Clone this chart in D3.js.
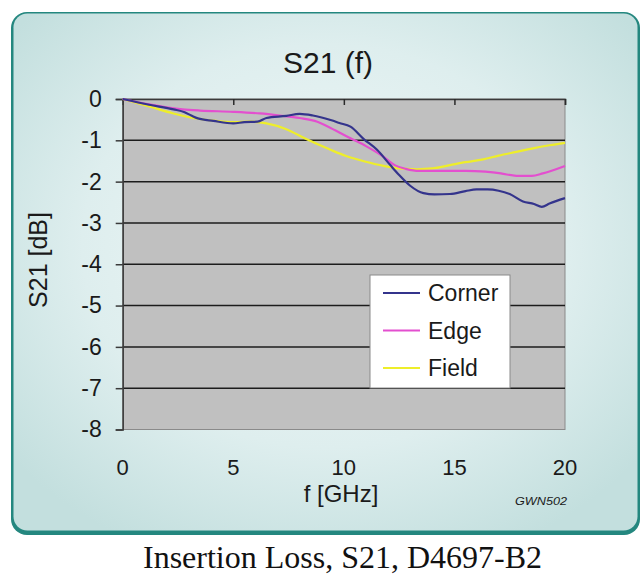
<!DOCTYPE html>
<html>
<head>
<meta charset="utf-8">
<script src="https://cdn.jsdelivr.net/npm/d3@7"></script>
<style>
  body { margin: 0; background: #fff; }
  text { font-family: "Liberation Sans", Arial, sans-serif; fill: #1a1a1a; }
  text.caption { font-family: "Liberation Serif", "Times New Roman", serif; fill: #111; }
</style>
</head>
<body>
<svg id="root"></svg>
<script>
// values
const cornerF = [0, 1.2, 2.3, 2.8, 3.1, 3.4, 4.1, 5.0, 5.5, 6.1, 6.5, 7.4, 8.0, 8.6, 9.4, 9.8, 10.3, 10.9, 11.5, 12.1, 12.5, 13.0, 13.6, 14.1, 14.8, 15.5, 16.0, 16.5, 17.0, 17.5, 18.1, 18.6, 18.95, 19.3, 20]
const cornerDb = [0, -0.14, -0.25, -0.32, -0.40, -0.47, -0.53, -0.59, -0.56, -0.55, -0.46, -0.41, -0.36, -0.40, -0.51, -0.58, -0.67, -0.97, -1.23, -1.6, -1.84, -2.1, -2.28, -2.31, -2.3, -2.23, -2.19, -2.19, -2.22, -2.3, -2.48, -2.54, -2.61, -2.53, -2.4]

const edgeF = [0, 1.2, 2.7, 3.5, 5.0, 6.2, 7.1, 8.0, 8.8, 9.4, 10.3, 11.0, 11.8, 12.3, 12.8, 13.4, 14.0, 15.5, 16.4, 17.1, 17.8, 18.5, 19.0, 20]
const edgeDb = [0, -0.13, -0.25, -0.28, -0.31, -0.35, -0.40, -0.46, -0.55, -0.70, -0.95, -1.14, -1.40, -1.60, -1.69, -1.74, -1.74, -1.74, -1.76, -1.80, -1.86, -1.86, -1.80, -1.62]

const fieldF = [0, 1.2, 2.3, 3.2, 4.2, 5.0, 5.8, 6.5, 7.4, 8.3, 9.4, 10.1, 11.0, 11.8, 12.5, 13.3, 14.0, 14.8, 15.5, 16.3, 17.0, 17.8, 18.5, 19.3, 20]
const fieldDb = [0, -0.18, -0.35, -0.46, -0.53, -0.56, -0.55, -0.59, -0.73, -0.97, -1.23, -1.38, -1.52, -1.62, -1.68, -1.70, -1.68, -1.60, -1.53, -1.46, -1.37, -1.28, -1.20, -1.12, -1.06]

const seriesNames = ["Corner", "Edge", "Field"]
const seriesColors = ["#34348c", "#e34fcf", "#eeee2a"]
const xTicks = [0, 5, 10, 15, 20]
const yTicks = [0, -1, -2, -3, -4, -5, -6, -7, -8]

const width = 641, height = 574

const svg = d3.select("#root").attr("width", width).attr("height", height)
const defs = svg.append("defs")

// frame background
const grad = defs.append("radialGradient").attr("id", "bg")
  .attr("cx", "50%").attr("cy", "45%").attr("r", "65%")
grad.append("stop").attr("offset", "0%").attr("stop-color", "#f1f8f8")
grad.append("stop").attr("offset", "60%").attr("stop-color", "#deeeee")
grad.append("stop").attr("offset", "100%").attr("stop-color", "#c3dfde")

svg.append("rect").attr("x", 11).attr("y", 12).attr("width", 629).attr("height", 523)
  .attr("rx", 16).attr("fill", "#24877f")
svg.append("rect").attr("x", 13.5).attr("y", 13.5).attr("width", 624).attr("height", 517)
  .attr("rx", 14).attr("fill", "url(#bg)")

const x = d3.scaleLinear().domain([0, 20]).range([122.7, 565])
const y = d3.scaleLinear().domain([-8, 0]).range([429.5, 99])

// plot area
svg.append("rect")
  .attr("x", x(0)).attr("y", y(0))
  .attr("width", x(20) - x(0)).attr("height", y(-8) - y(0))
  .attr("fill", "#c0c0c0").attr("stroke", "#8a8a8a").attr("stroke-width", 1)

// gridlines
svg.append("g").selectAll("line")
  .data(yTicks.filter(d => d < 0 && d > -8))
  .join("line")
  .attr("x1", x(0)).attr("x2", x(20))
  .attr("y1", d => y(d)).attr("y2", d => y(d))
  .attr("stroke", "#1c1c1c").attr("stroke-width", 1.5)

// y axis (plain hyphen for negatives, like the original)
const yAxis = svg.append("g")
  .attr("transform", `translate(${x(0)},0)`)
  .call(d3.axisLeft(y).tickValues(yTicks).tickSize(7).tickPadding(14).tickFormat(d => String(d)))
yAxis.select(".domain").attr("stroke", "#3a3a3a").attr("stroke-width", 1.5)
yAxis.selectAll(".tick line").attr("stroke", "#3a3a3a").attr("stroke-width", 1.5)
yAxis.selectAll(".tick text")
  .attr("font-size", 23).attr("font-family", null)
  .attr("fill", "#1a1a1a")

// x axis line sits at 0 dB (top), ticks inside
const xAxis = svg.append("g")
  .attr("transform", `translate(0,${y(0)})`)
  .call(d3.axisBottom(x).tickValues(xTicks.filter(d => d > 0)).tickSize(6).tickFormat(""))
xAxis.select(".domain").attr("stroke", "#3a3a3a").attr("stroke-width", 1.5)
xAxis.selectAll(".tick line").attr("stroke", "#2a2a2a").attr("stroke-width", 1.5)

// x tick labels at the bottom
svg.append("g").selectAll("text")
  .data(xTicks)
  .join("text")
  .attr("x", d => x(d)).attr("y", 475)
  .attr("text-anchor", "middle").attr("font-size", 22)
  .text(d => d)

// series
const series = [
  { name: seriesNames[0], color: seriesColors[0], pts: d3.zip(cornerF, cornerDb) },
  { name: seriesNames[1], color: seriesColors[1], pts: d3.zip(edgeF, edgeDb) },
  { name: seriesNames[2], color: seriesColors[2], pts: d3.zip(fieldF, fieldDb) }
]

const line = d3.line()
  .curve(d3.curveMonotoneX)
  .x(d => x(d[0]))
  .y(d => y(d[1]))

svg.append("g").selectAll("path")
  .data(series.slice().reverse())
  .join("path")
  .attr("d", d => line(d.pts))
  .attr("fill", "none")
  .attr("stroke", d => d.color)
  .attr("stroke-width", 2.2)
  .attr("stroke-linejoin", "round")

// legend
const legend = svg.append("g")
legend.append("rect")
  .attr("x", 370).attr("y", 275).attr("width", 140).attr("height", 113)
  .attr("fill", "#fff").attr("stroke", "#8a8a8a").attr("stroke-width", 1)
const items = legend.selectAll("g.item")
  .data(series)
  .join("g")
  .attr("class", "item")
  .attr("transform", (d, i) => `translate(0,${293 + i * 37.5})`)
items.append("line")
  .attr("x1", 383).attr("x2", 420)
  .attr("stroke", d => d.color).attr("stroke-width", 2)
items.append("text")
  .attr("x", 428).attr("dy", "0.36em")
  .attr("font-size", 23)
  .text(d => d.name)

// titles
svg.append("text")
  .attr("x", 328).attr("y", 73)
  .attr("text-anchor", "middle").attr("font-size", 30)
  .text("S21 (f)")

svg.append("text")
  .attr("transform", "translate(47,260) rotate(-90)")
  .attr("text-anchor", "middle").attr("font-size", 25)
  .text("S21 [dB]")

svg.append("text")
  .attr("x", 341).attr("y", 502)
  .attr("text-anchor", "middle").attr("font-size", 24)
  .text("f [GHz]")

svg.append("text")
  .attr("x", 515).attr("y", 505)
  .attr("font-size", 11).attr("font-style", "italic")
  .attr("textLength", 52).attr("lengthAdjust", "spacingAndGlyphs")
  .text("GWN502")

// caption under the frame
svg.append("text")
  .attr("class", "caption")
  .attr("x", 143).attr("y", 568)
  .attr("font-size", 32)
  .text("Insertion Loss, S21, D4697-B2")
</script>
</body>
</html>
